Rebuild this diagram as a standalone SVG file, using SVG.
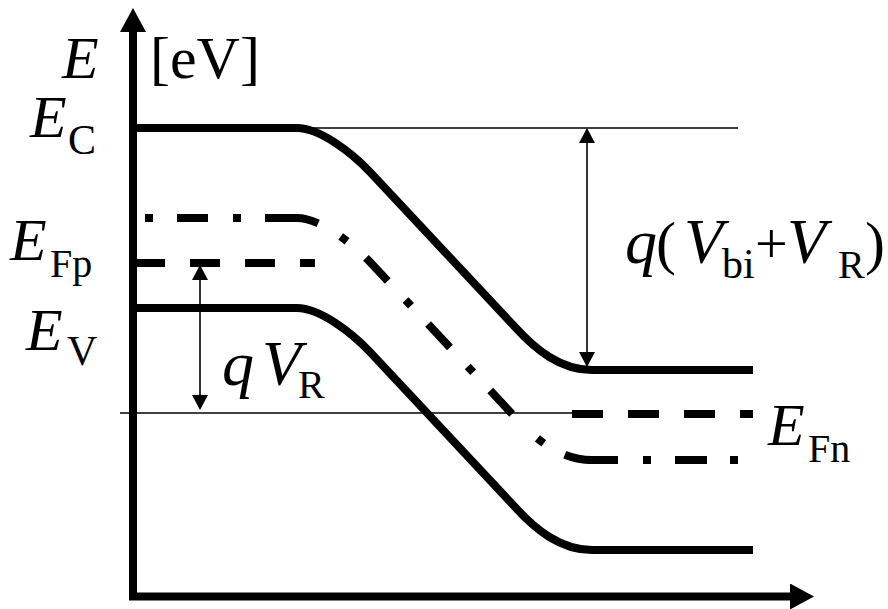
<svg xmlns="http://www.w3.org/2000/svg" width="888" height="609" viewBox="0 0 888 609">
<defs>
<style>
.band{fill:none;stroke:#000;stroke-width:8;stroke-linecap:butt;stroke-linejoin:round}
.thin{fill:none;stroke:#000;stroke-width:1.6}
.axis{fill:none;stroke:#000;stroke-width:8}
.lbl{font-family:"Liberation Serif","Times New Roman",serif;fill:#000}
.it{font-style:italic}
</style>
<marker id="axhead" markerUnits="userSpaceOnUse" markerWidth="24" markerHeight="26" viewBox="0 0 24 26" refX="0" refY="13" orient="auto"><path d="M0,0 L24,13 L0,26 z"/></marker>
<marker id="head" markerUnits="userSpaceOnUse" markerWidth="15" markerHeight="16" viewBox="0 0 15 16" refX="0" refY="8" orient="auto-start-reverse"><path d="M0,0 L15,8 L0,16 z"/></marker>
</defs>
<rect width="888" height="609" fill="#fff"/>
<g id="axes">
<path class="axis" d="M133,600 V32" marker-end="url(#axhead)"/>
<path class="axis" d="M129,596.5 H790" marker-end="url(#axhead)"/>
</g>
<g id="reference-lines">
<line class="thin" x1="297" y1="128" x2="738" y2="128"/>
<line class="thin" x1="120" y1="413" x2="572" y2="413"/>
</g>
<g id="Ec-band">
<path class="band" d="M133,128 H297 C320,128 352,153 370,172 L515,327 C535,349 560,370 592,370 H753"/>
</g>
<g id="Ei-level">
<path class="band" stroke-dasharray="8 24 31 25" d="M145,218 H297"/>
<path class="band" stroke-dasharray="32 26 8 25" d="M287,218 H297 C320,218 352,243 370,262 L515,417"/>
<path class="band" stroke-dasharray="0 31 8 24 40" d="M515,417 C535,439 560,460 592,460"/>
<path class="band" stroke-dasharray="31 25 8 24 32 23 8 20" d="M587,460 H738"/>
</g>
<g id="Efp-level">
<path class="band" stroke-dasharray="30 25" d="M135,263 H315"/>
</g>
<g id="Efn-level">
<path class="band" stroke-dasharray="31 25" d="M572,414 H753"/>
</g>
<g id="Ev-band">
<path class="band" d="M133,308 H297 C320,308 352,333 370,352 L515,507 C535,529 560,550 592,550 H753"/>
</g>
<g id="connectors">
<path class="thin" d="M587,143 V352" marker-start="url(#head)" marker-end="url(#head)"/>
<path class="thin" d="M200,280 V395" marker-start="url(#head)" marker-end="url(#head)"/>
</g>
<g id="label-E">
<text class="lbl it" x="62" y="78" font-size="60">E</text>
<text class="lbl" x="150" y="78" font-size="60">[eV]</text>
</g>
<g id="label-Ec">
<text class="lbl" x="30" y="137" font-size="60"><tspan class="it">E</tspan><tspan x="68" y="154" font-size="42">C</tspan></text>
</g>
<g id="label-Efp">
<text class="lbl" x="10" y="260" font-size="60"><tspan class="it">E</tspan><tspan x="50" y="277" font-size="40">Fp</tspan></text>
</g>
<g id="label-Ev">
<text class="lbl" x="26" y="350" font-size="60"><tspan class="it">E</tspan><tspan x="67" y="365" font-size="42">V</tspan></text>
</g>
<g id="label-qVR">
<text class="lbl" x="222" y="385" font-size="64"><tspan class="it">q</tspan><tspan class="it" x="262">V</tspan><tspan x="298" y="398" font-size="40">R</tspan></text>
</g>
<g id="label-qVbiVR">
<text class="lbl" x="625" y="263" font-size="64"><tspan class="it">q</tspan><tspan x="656" font-size="60">(</tspan><tspan class="it" x="684">V</tspan><tspan x="722" y="278" font-size="42">bi</tspan><tspan x="755" y="263" font-size="58">+</tspan><tspan class="it" x="787">V</tspan><tspan x="838" y="278" font-size="40">R</tspan><tspan x="865" y="263" font-size="60">)</tspan></text>
</g>
<g id="label-Efn">
<text class="lbl" x="768" y="445" font-size="60"><tspan class="it">E</tspan><tspan x="808" y="462" font-size="40">Fn</tspan></text>
</g>
</svg>
